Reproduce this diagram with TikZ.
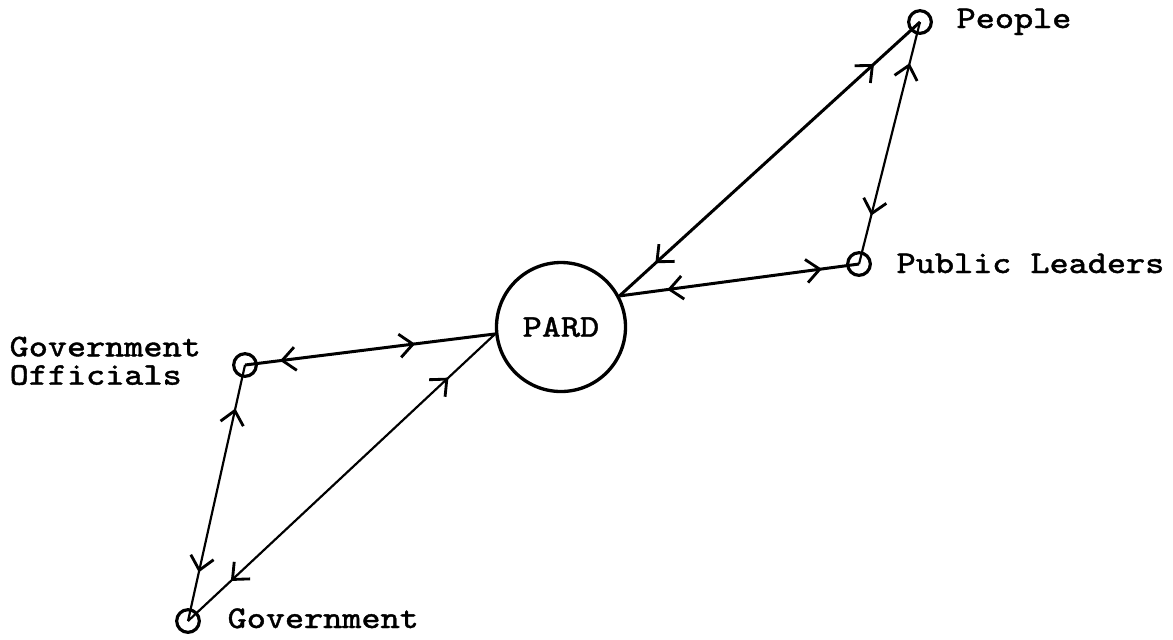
\documentclass[tikz,border=0pt]{standalone}
\usepackage{fontspec}
\newfontfamily\twfont{Latin Modern Mono}[FakeBold=1.2, FakeStretch=1.15]
\usetikzlibrary{arrows.meta, decorations.markings}

\begin{document}
\begin{tikzpicture}[
    x=0.3pt, y=-0.3pt,
    %% Small end-point circles and the central hub
    stn/.style = {circle, draw, line width=0.95pt, inner sep=0pt, minimum size=6.8pt},
    hub/.style = {circle, draw, line width=1pt, inner sep=0pt, minimum size=38.7pt,
      font=\twfont\fontsize{9.5}{11}\selectfont},
    %% Labels
    lbl/.style = {font=\twfont\fontsize{9.5}{8.5}\selectfont, inner sep=0pt, align=left},
    %% Connectors
    barb/.tip = {Straight Barb[length=4pt, width=7pt, line width=0.85pt]},
    thk/.style = {line width=0.9pt},
    thn/.style = {line width=0.65pt},
    flow/.style 2 args = {postaction={decorate}, decoration={markings,
        mark=at position #1 with {\arrowreversed{barb}},
        mark=at position #2 with {\arrow{barb}}}},
  ]
    \useasboundingbox (0,0) rectangle (1173,639);

    %% ── Nodes ──────────────────────────────────────────────────────────────
    \node[hub] (pard) at (561,327) {PARD};
    \node[stn] (pe) at (920,22)  {};
    \node[stn] (pl) at (859,264) {};
    \node[stn] (go) at (245,365) {};
    \node[stn] (gv) at (188,621) {};

    \node[lbl, anchor=base west]  (pelbl) at (956,28)  {People};
    \node[lbl, anchor=base west]  (pllbl) at (896,273) {Public Leaders};
    \node[lbl, anchor=base west]  (gvlbl) at (227,628) {Government};
    \node[lbl, anchor=north west] (golbl) at (9,336)   {Government\\Officials};

    %% ── Two-way links ──────────────────────────────────────────────────────
    \draw[thk, flow={0.12}{0.85}]  (pard.28) -- (pe.center);
    \draw[thk, flow={0.2}{0.845}]  (pard.28) -- (pl.center);
    \draw[thn, flow={0.17}{0.8}]   (pe.center) -- (pl.center);
    \draw[thk, flow={0.14}{0.68}]  (go.center) -- (pard.186);
    \draw[thn, flow={0.14}{0.85}]  (gv.center) -- (pard.186);
    \draw[thn, flow={0.17}{0.81}]  (go.center) -- (gv.center);

  \end{tikzpicture}
\end{document}
